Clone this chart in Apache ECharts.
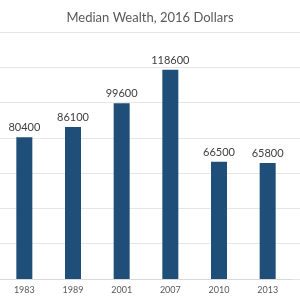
<!DOCTYPE html>
<html><head><meta charset="utf-8">
<script src="https://cdn.jsdelivr.net/npm/echarts@6/dist/echarts.min.js"></script>
<style>html,body{margin:0;padding:0;background:#fff}#c{width:300px;height:300px}</style>
</head><body><div id="c"></div>
<script>
const years = ['1983','1989','2001','2007','2010','2013'];
const wealth = [80400, 86100, 99600, 118600, 66500, 65800];
const yMax = 140000;
const yStep = 20000;
const chart = echarts.init(document.getElementById('c'));
chart.setOption({
  animation: false,
  title: {text: 'Median Wealth, 2016 Dollars', left: 'center', top: 6,
    textStyle: {fontFamily: 'Lato', fontSize: 13, fontWeight: 'normal', color: '#595959'}},
  grid: [
    {left: -8, right: 8, top: 32, bottom: 21},
    {left: 0, right: 0, top: 32, bottom: 21}
  ],
  xAxis: [
    {type: 'category', data: years, gridIndex: 0,
      axisLine: {lineStyle: {color: '#d9d9d9'}}, axisTick: {show: false},
      axisLabel: {fontFamily: 'Lato', fontSize: 9, color: '#595959', margin: 7}},
    {type: 'category', data: years, gridIndex: 1, show: false}
  ],
  yAxis: [
    {type: 'value', gridIndex: 0, min: 0, max: yMax, interval: yStep, show: false, splitLine: {show: false}},
    {type: 'value', gridIndex: 1, min: 0, max: yMax, interval: yStep,
      axisLine: {show: false}, axisTick: {show: false}, axisLabel: {show: false},
      splitLine: {lineStyle: {color: '#e6e6e6'}}}
  ],
  series: [{
    type: 'bar', data: wealth, xAxisIndex: 0, yAxisIndex: 0, barWidth: 16,
    itemStyle: {color: '#1f4e79'},
    label: {show: true, position: 'top', distance: 4, fontFamily: 'Lato', fontSize: 11, color: '#404040'}
  }]
});
</script></body></html>
